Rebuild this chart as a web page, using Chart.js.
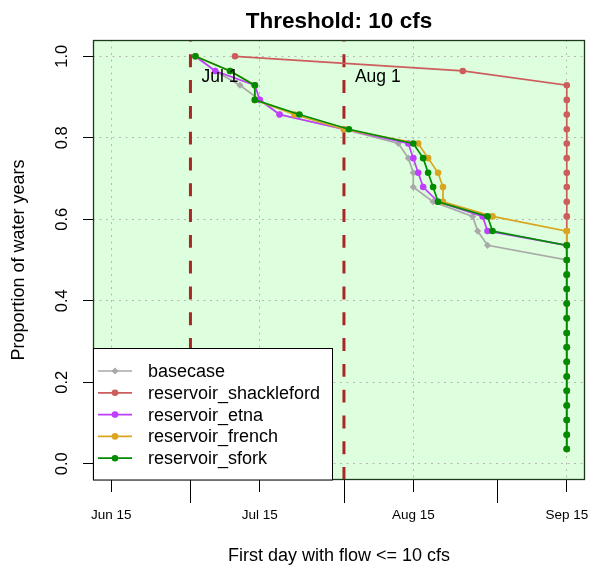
<!DOCTYPE html>
<html lang="en">
<head>
  <meta charset="UTF-8">
  <title>Threshold: 10 cfs</title>
  <script src="https://cdn.jsdelivr.net/npm/chart.js"></script>
  <style>
    body { margin: 0; background: #fff; }
    #chart { display: block; }
  </style>
</head>
<body>
  <canvas id="chart" width="592" height="567"></canvas>

  <script>
    // proportion of water years (28 years), shared by every series
    const propYears = [1.000, 0.964, 0.929, 0.893, 0.857, 0.821, 0.786, 0.750, 0.714, 0.679,
                       0.643, 0.607, 0.571, 0.536, 0.500, 0.464, 0.429, 0.393, 0.357, 0.321,
                       0.286, 0.250, 0.214, 0.179, 0.143, 0.107, 0.071, 0.036];

    // first day with flow <= 10 cfs, one per water year, sorted
    const basecaseDays = ["Jul 2", "Jul 6", "Jul 11", "Jul 15", "Jul 19", "Aug 1", "Aug 12", "Aug 14",
      "Aug 15", "Aug 15", "Aug 19", "Aug 27", "Aug 28", "Aug 30",
      "Sep 15", "Sep 15", "Sep 15", "Sep 15", "Sep 15", "Sep 15", "Sep 15",
      "Sep 15", "Sep 15", "Sep 15", "Sep 15", "Sep 15", "Sep 15", "Sep 15"];
    const shacklefordDays = ["Jul 10", "Aug 25",
      "Sep 15", "Sep 15", "Sep 15", "Sep 15", "Sep 15", "Sep 15", "Sep 15", "Sep 15", "Sep 15", "Sep 15",
      "Sep 15", "Sep 15", "Sep 15", "Sep 15", "Sep 15", "Sep 15", "Sep 15", "Sep 15", "Sep 15", "Sep 15",
      "Sep 15", "Sep 15", "Sep 15", "Sep 15", "Sep 15", "Sep 15"];
    const etnaDays = ["Jul 2", "Jul 6", "Jul 14", "Jul 15", "Jul 19", "Aug 1", "Aug 14", "Aug 15",
      "Aug 16", "Aug 17", "Aug 20", "Aug 29", "Aug 30",
      "Sep 15", "Sep 15", "Sep 15", "Sep 15", "Sep 15", "Sep 15", "Sep 15", "Sep 15",
      "Sep 15", "Sep 15", "Sep 15", "Sep 15", "Sep 15", "Sep 15", "Sep 15"];
    const frenchDays = ["Jul 2", "Jul 9", "Jul 14", "Jul 14", "Jul 22", "Aug 1", "Aug 16", "Aug 18",
      "Aug 20", "Aug 21", "Aug 21", "Aug 31",
      "Sep 15", "Sep 15", "Sep 15", "Sep 15", "Sep 15", "Sep 15", "Sep 15", "Sep 15",
      "Sep 15", "Sep 15", "Sep 15", "Sep 15", "Sep 15", "Sep 15", "Sep 15", "Sep 15"];
    const sforkDays = ["Jul 2", "Jul 9", "Jul 14", "Jul 14", "Jul 23", "Aug 2", "Aug 15", "Aug 17",
      "Aug 18", "Aug 19", "Aug 20", "Aug 30", "Aug 31",
      "Sep 15", "Sep 15", "Sep 15", "Sep 15", "Sep 15", "Sep 15", "Sep 15", "Sep 15",
      "Sep 15", "Sep 15", "Sep 15", "Sep 15", "Sep 15", "Sep 15", "Sep 15"];

    const seriesNames = ["basecase", "reservoir_shackleford", "reservoir_etna", "reservoir_french", "reservoir_sfork"];
    const seriesColors = ["#a9a9a9", "#cd5c5c", "#bf3eff", "#daa520", "#008b00"];

    const xTickLabels = ["Jun 15", "Jul 15", "Aug 15", "Sep 15"];
    const xLongTicks = ["Jul 1", "Aug 1", "Sep 1"];
    const markerDates = ["Jul 1", "Aug 1"];
    const yTicks = [0, 0.2, 0.4, 0.6, 0.8, 1.0];

    const MONTHS = { Jun: 5, Jul: 6, Aug: 7, Sep: 8 };
    function dayOfYear(label) {
      const [mon, d] = label.split(" ");
      return (Date.UTC(2001, MONTHS[mon], +d) - Date.UTC(2001, 0, 1)) / 86400000 + 1;
    }

    const FONT = "'Liberation Sans', Arial, Helvetica, sans-serif";
    const xFrom = dayOfYear("Jun 15"), xTo = dayOfYear("Sep 15");
    const xPad = (xTo - xFrom) * 0.04;

    const allDays = [basecaseDays, shacklefordDays, etnaDays, frenchDays, sforkDays];
    const datasets = allDays.map((days, i) => ({
      label: seriesNames[i],
      data: days.map((d, k) => ({ x: dayOfYear(d), y: propYears[k] })),
      borderColor: seriesColors[i],
      backgroundColor: seriesColors[i],
      borderWidth: 1.7,
      pointRadius: i === 0 ? 3.6 : 3.3,
      pointStyle: i === 0 ? "rectRot" : "circle",
      pointBorderWidth: 0,
      tension: 0,
      fill: false,
      order: 5 - i   // green drawn on top
    }));

    const extras = {
      id: "extras",
      beforeDraw(chart) {
        const { ctx, chartArea: a } = chart;
        ctx.save();
        ctx.fillStyle = "#ddffdd";
        ctx.fillRect(a.left, a.top, a.right - a.left, a.bottom - a.top);
        ctx.restore();
      },
      beforeDatasetsDraw(chart) {
        const { ctx, chartArea: a, scales } = chart;
        ctx.save();
        ctx.strokeStyle = "#a82828";
        ctx.lineWidth = 3;
        ctx.setLineDash([12.9, 12.9]);
        markerDates.forEach(d => {
          const x = scales.x.getPixelForValue(dayOfYear(d));
          ctx.beginPath();
          ctx.moveTo(x, a.bottom);
          ctx.lineTo(x, a.top);
          ctx.stroke();
        });
        ctx.restore();
      },
      afterDatasetsDraw(chart) {
        const { ctx, chartArea: a, scales } = chart;
        const xs = scales.x, ys = scales.y;
        ctx.save();

        // frame
        ctx.strokeStyle = "#1e3a1e";
        ctx.lineWidth = 1.3;
        ctx.strokeRect(a.left + 0.5, a.top + 0.5, a.right - a.left - 1, a.bottom - a.top - 1);

        // long ticks for month starts
        ctx.strokeStyle = "#000";
        ctx.lineWidth = 1;
        xLongTicks.forEach(d => {
          const x = Math.round(xs.getPixelForValue(dayOfYear(d))) + 0.5;
          ctx.beginPath();
          ctx.moveTo(x, a.bottom);
          ctx.lineTo(x, a.bottom + 23);
          ctx.stroke();
        });

        ctx.fillStyle = "#000";
        // marker labels
        ctx.font = "17.5px " + FONT;
        ctx.textAlign = "left";
        ctx.textBaseline = "alphabetic";
        markerDates.forEach(d => {
          ctx.fillText(d, xs.getPixelForValue(dayOfYear(d)) + 11, 82);
        });

        // x tick labels
        ctx.font = "13.5px " + FONT;
        ctx.textAlign = "center";
        ctx.textBaseline = "middle";
        xTickLabels.forEach(d => ctx.fillText(d, xs.getPixelForValue(dayOfYear(d)), 515.5));

        // y tick labels (rotated)
        ctx.font = "16.5px " + FONT;
        ctx.textBaseline = "alphabetic";
        yTicks.forEach(v => {
          ctx.save();
          ctx.translate(66.5, ys.getPixelForValue(v));
          ctx.rotate(-Math.PI / 2);
          ctx.fillText(v.toFixed(1), 0, 0);
          ctx.restore();
        });

        // title and axis titles
        ctx.font = "bold 22.5px " + FONT;
        ctx.fillText("Threshold: 10 cfs", (a.left + a.right) / 2, 28);
        ctx.font = "18px " + FONT;
        ctx.fillText("First day with flow <= 10 cfs", (a.left + a.right) / 2, 561);
        ctx.save();
        ctx.translate(24, (a.top + a.bottom) / 2);
        ctx.rotate(-Math.PI / 2);
        ctx.fillText("Proportion of water years", 0, 0);
        ctx.restore();

        // legend
        const lx = a.left, ly = 348.5, lw = 239, lh = a.bottom - ly;
        ctx.fillStyle = "#fff";
        ctx.fillRect(lx, ly, lw, lh);
        ctx.strokeStyle = "#000";
        ctx.lineWidth = 1;
        ctx.strokeRect(lx + 0.5, ly, lw, lh);
        ctx.font = "18px " + FONT;
        ctx.textAlign = "left";
        ctx.textBaseline = "middle";
        seriesNames.forEach((name, i) => {
          const y = 371 + i * 21.8;
          ctx.strokeStyle = seriesColors[i];
          ctx.fillStyle = seriesColors[i];
          ctx.lineWidth = 1.7;
          ctx.beginPath();
          ctx.moveTo(lx + 5, y);
          ctx.lineTo(lx + 39, y);
          ctx.stroke();
          if (i === 0) {
            ctx.beginPath();
            ctx.moveTo(lx + 22, y - 3.6);
            ctx.lineTo(lx + 25.6, y);
            ctx.lineTo(lx + 22, y + 3.6);
            ctx.lineTo(lx + 18.4, y);
            ctx.closePath();
            ctx.fill();
          } else {
            ctx.beginPath();
            ctx.arc(lx + 22, y, 3.3, 0, Math.PI * 2);
            ctx.fill();
          }
          ctx.fillStyle = "#000";
          ctx.fillText(name, lx + 55, y + 1);
        });
        ctx.restore();
      }
    };

    new Chart(document.getElementById("chart").getContext("2d"), {
      type: "line",
      data: { datasets },
      options: {
        responsive: false,
        animation: false,
        devicePixelRatio: 1,
        layout: { padding: { top: 40, right: 7, left: 0, bottom: 0 } },
        plugins: { legend: { display: false }, tooltip: { enabled: false } },
        scales: {
          x: {
            type: "linear",
            min: xFrom - xPad,
            max: xTo + xPad,
            afterBuildTicks: s => { s.ticks = xTickLabels.map(d => ({ value: dayOfYear(d) })); },
            afterFit: s => { s.height = 87; },
            ticks: { display: false },
            border: { display: false, dash: [2, 4.5] },
            grid: { color: "#b8b8b8", lineWidth: 1, tickColor: "#000", tickLength: 12, tickWidth: 1 }
          },
          y: {
            min: -0.04,
            max: 1.04,
            afterBuildTicks: s => { s.ticks = yTicks.map(v => ({ value: v })); },
            afterFit: s => { s.width = 93; },
            ticks: { display: false },
            border: { display: false, dash: [2, 4.5] },
            grid: { color: "#b8b8b8", lineWidth: 1, tickColor: "#000", tickLength: 10, tickWidth: 1 }
          }
        }
      },
      plugins: [extras]
    });
  </script>
</body>
</html>
